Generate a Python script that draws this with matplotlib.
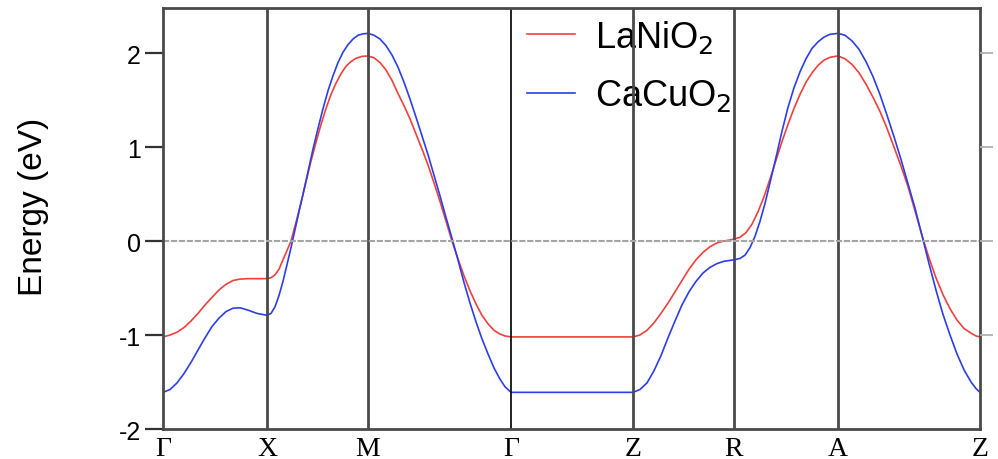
import numpy as np
import matplotlib
matplotlib.use("Agg")
import matplotlib.pyplot as plt

# high symmetry points along the k-path
hs_labels = ["Γ", "X", "M", "Γ", "Z", "R", "A", "Z"]
hs_k = [0.0, 1.02, 2.01, 3.412, 4.608, 5.598, 6.618, 8.01]

# LaNiO2 band (red)
k_la = [0.0, 0.069, 0.137, 0.206, 0.275, 0.343, 0.412, 0.48, 0.549, 0.618, 0.686, 0.755, 0.833, 0.922, 1.02,
        1.059, 1.098, 1.137, 1.176, 1.216, 1.255, 1.304, 1.353, 1.402, 1.451, 1.5, 1.549, 1.598, 1.647,
        1.696, 1.745, 1.794, 1.843, 1.892, 1.951, 2.01,
        2.069, 2.127, 2.186, 2.245, 2.304, 2.363, 2.422, 2.48, 2.539, 2.598, 2.657, 2.716, 2.775, 2.833,
        2.892, 2.951, 3.01, 3.069, 3.127, 3.186, 3.245, 3.304, 3.353, 3.412,
        4.608,
        4.676, 4.745, 4.814, 4.882, 4.951, 5.02, 5.088, 5.157, 5.225, 5.294, 5.363, 5.431, 5.5, 5.598,
        5.657, 5.716, 5.775, 5.833, 5.892, 5.951, 6.01, 6.069, 6.127, 6.186, 6.245, 6.304, 6.363, 6.422,
        6.48, 6.539, 6.618,
        6.686, 6.755, 6.824, 6.892, 6.961, 7.029, 7.098, 7.167, 7.235, 7.304, 7.373, 7.441, 7.51, 7.578,
        7.647, 7.716, 7.784, 7.853, 7.922, 7.971, 8.01]
e_la = [-1.02, -1.00, -0.97, -0.92, -0.85, -0.77, -0.68, -0.60, -0.52, -0.46, -0.42, -0.405, -0.40, -0.40, -0.40,
        -0.39, -0.36, -0.30, -0.20, -0.10, 0.0, 0.20, 0.41, 0.63, 0.85, 1.05, 1.24, 1.41, 1.56,
        1.68, 1.78, 1.86, 1.91, 1.945, 1.965, 1.97,
        1.95, 1.90, 1.82, 1.71, 1.57, 1.44, 1.30, 1.14, 0.98, 0.81, 0.62, 0.42, 0.21, 0.0,
        -0.19, -0.37, -0.53, -0.67, -0.79, -0.88, -0.95, -0.99, -1.01, -1.02,
        -1.02,
        -1.00, -0.95, -0.87, -0.77, -0.66, -0.54, -0.42, -0.30, -0.20, -0.12, -0.06, -0.02, 0.0, 0.02,
        0.04, 0.09, 0.18, 0.31, 0.47, 0.66, 0.86, 1.06, 1.24, 1.41, 1.56, 1.69, 1.79, 1.87,
        1.925, 1.955, 1.97,
        1.94, 1.88, 1.79, 1.67, 1.53, 1.38, 1.20, 1.00, 0.80, 0.58, 0.32, 0.06, -0.18, -0.39,
        -0.57, -0.72, -0.84, -0.93, -0.98, -1.01, -1.02]

# CaCuO2 band (blue)
k_ca = [0.0, 0.069, 0.137, 0.206, 0.275, 0.343, 0.412, 0.48, 0.549, 0.618, 0.686, 0.755, 0.833, 0.922, 1.02,
        1.059, 1.098, 1.137, 1.176, 1.216, 1.255, 1.294, 1.333, 1.373, 1.422, 1.471, 1.52, 1.569, 1.618,
        1.667, 1.716, 1.765, 1.814, 1.863, 1.912, 1.961, 2.01,
        2.069, 2.127, 2.186, 2.245, 2.304, 2.363, 2.422, 2.48, 2.539, 2.598, 2.657, 2.716, 2.775, 2.833,
        2.892, 2.951, 3.01, 3.069, 3.127, 3.186, 3.245, 3.304, 3.353, 3.412,
        4.608,
        4.676, 4.745, 4.814, 4.882, 4.951, 5.02, 5.088, 5.157, 5.225, 5.294, 5.363, 5.431, 5.5, 5.598,
        5.657, 5.706, 5.755, 5.804, 5.853, 5.902, 5.951, 6.01, 6.069, 6.127, 6.186, 6.245, 6.304, 6.363,
        6.422, 6.48, 6.539, 6.618,
        6.686, 6.755, 6.824, 6.892, 6.961, 7.029, 7.098, 7.167, 7.235, 7.304, 7.373, 7.441, 7.51, 7.578,
        7.647, 7.716, 7.784, 7.853, 7.922, 7.971, 8.01]
e_ca = [-1.61, -1.58, -1.51, -1.41, -1.29, -1.16, -1.03, -0.91, -0.82, -0.75, -0.715, -0.71, -0.735, -0.77, -0.79,
        -0.77, -0.70, -0.58, -0.43, -0.25, -0.07, 0.12, 0.31, 0.50, 0.74, 0.98, 1.20, 1.41, 1.60,
        1.76, 1.90, 2.01, 2.09, 2.15, 2.19, 2.205, 2.21,
        2.19, 2.15, 2.08, 1.98, 1.85, 1.69, 1.51, 1.32, 1.12, 0.92, 0.70, 0.48, 0.25, 0.03,
        -0.20, -0.44, -0.66, -0.86, -1.04, -1.20, -1.35, -1.47, -1.55, -1.61,
        -1.61,
        -1.58, -1.51, -1.38, -1.22, -1.03, -0.85, -0.68, -0.54, -0.43, -0.34, -0.28, -0.24, -0.215, -0.20,
        -0.185, -0.15, -0.07, 0.05, 0.21, 0.40, 0.62, 0.89, 1.17, 1.42, 1.63, 1.80, 1.94, 2.05,
        2.12, 2.17, 2.20, 2.21,
        2.19, 2.13, 2.04, 1.91, 1.75, 1.56, 1.34, 1.11, 0.87, 0.61, 0.35, 0.06, -0.24, -0.52,
        -0.78, -1.00, -1.20, -1.37, -1.50, -1.57, -1.61]

y_ticks = [-2, -1, 0, 1, 2]

plt.rcParams["font.family"] = ["Liberation Sans", "DejaVu Sans"]

fig = plt.figure(figsize=(9.98, 4.6), dpi=100)
ax = fig.add_axes([163 / 998, 1 - 430 / 460, (980 - 163) / 998, (430 - 9) / 460])

ax.plot(k_la, e_la, color="#f0403c", lw=1.2, label="LaNiO$_2$", zorder=3)
ax.plot(k_ca, e_ca, color="#2c3ee8", lw=1.2, label="CaCuO$_2$", zorder=3)

# vertical lines at high symmetry points
for i, k in enumerate(hs_k[1:-1]):
    if hs_labels[i + 1] == "Γ":
        ax.axvline(k, color="#111111", lw=1.3, zorder=4)
    else:
        ax.axvline(k, color="#4a4a4a", lw=2.0, zorder=4)

ax.axhline(0, color="#a5a5a5", lw=1.5, ls=(0, (3, 0.8)), zorder=5)

ax.set_xlim(hs_k[0], hs_k[-1])
ax.set_ylim(-2, 2.48)
ax.set_xticks(hs_k)
ax.set_xticklabels(hs_labels, fontfamily=["Liberation Serif", "DejaVu Serif"], fontsize=20)
ax.tick_params(axis="x", length=0, pad=5)
ax.set_yticks(y_ticks)
ax.set_yticklabels([str(v) for v in y_ticks], fontsize=18)
ax.tick_params(axis="y", direction="out", length=13, width=1.6, color="#333333", pad=3)
ax.set_ylabel("Energy (eV)", fontsize=24, labelpad=50)
ax.yaxis.label.set_y(0.53)

for s in ax.spines.values():
    s.set_color("#4a4a4a")
    s.set_linewidth(2.0)
    s.set_zorder(6)

# light gray ticks on the right side
axr = ax.twinx()
axr.set_ylim(ax.get_ylim())
axr.set_yticks([-1, 0, 1, 2])
axr.set_yticklabels([])
axr.tick_params(axis="y", direction="out", length=9, width=1.3, color="#b0b0b0")
for s in axr.spines.values():
    s.set_visible(False)

leg = ax.legend(loc="upper left", bbox_to_anchor=(0.4455, 0.976), frameon=False,
                fontsize=26, handlelength=1.33, handletextpad=0.55, labelspacing=0.62,
                borderpad=0, borderaxespad=0)
leg.set_zorder(1)

fig.savefig("out.png", dpi=100)
